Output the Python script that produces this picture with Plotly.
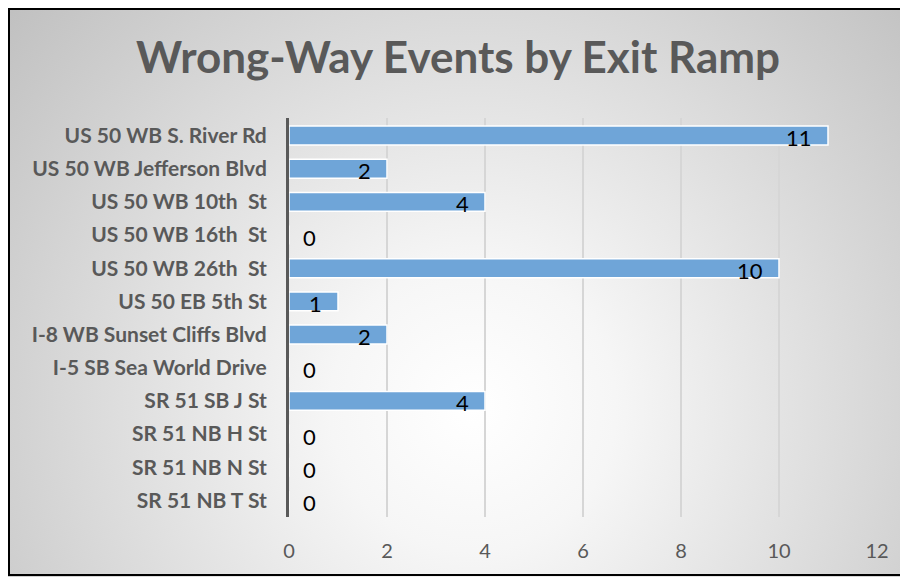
import base64
import plotly.graph_objects as go

# ── Data ───────────────────────────────────────────────────────────────────────
ramps = [
    "US 50 WB S. River Rd",
    "US 50 WB Jefferson Blvd",
    "US 50 WB 10th  St",
    "US 50 WB 16th  St",
    "US 50 WB 26th  St",
    "US 50 EB 5th St",
    "I-8 WB Sunset Cliffs Blvd",
    "I-5 SB Sea World Drive",
    "SR 51 SB J St",
    "SR 51 NB H St",
    "SR 51 NB N St",
    "SR 51 NB T St",
]
events = [11, 2, 4, 0, 10, 1, 2, 0, 4, 0, 0, 0]
x_ticks = [0, 2, 4, 6, 8, 10, 12]

# ── Geometry (figure sits 8px in from the page corner) ─────────────────────────
W, H = 900, 569
ML, MR, MT, MB = 281, 31, 110, 60
PW, PH = W - ML - MR, H - MT - MB
FONT = "Lato, 'Open Sans', sans-serif"

# ── Background gradient (radial, light centre) ────────────────────────────────
svg = (
    f'<svg xmlns="http://www.w3.org/2000/svg" width="{W}" height="{H}">'
    '<defs><radialGradient id="g" cx="465" cy="400" r="650" '
    'gradientUnits="userSpaceOnUse">'
    '<stop offset="0" stop-color="#ffffff"/>'
    '<stop offset="0.22" stop-color="#f6f6f6"/>'
    '<stop offset="1" stop-color="#bcbcbc"/>'
    '</radialGradient></defs>'
    f'<rect width="{W}" height="{H}" fill="url(#g)"/></svg>'
)
bg_uri = "data:image/svg+xml;base64," + base64.b64encode(svg.encode()).decode()

fig = go.Figure()

fig.add_trace(go.Bar(
    x=events,
    y=ramps,
    orientation="h",
    marker=dict(color="#6fa5d8", line=dict(color="white", width=1.5)),
    hoverinfo="x+y",
    showlegend=False,
))

# value labels: inside end for bars, just right of the axis for zeros
for ramp, v in zip(ramps, events):
    fig.add_annotation(
        x=v, y=ramp, xref="x", yref="y",
        text=str(v),
        showarrow=False,
        xanchor="right" if v > 0 else "left",
        xshift=-14 if v > 0 else 12,
        yshift=-2,
        font=dict(family=FONT, size=22, color="black"),
    )

fig.update_layout(
    width=W,
    height=H,
    margin=dict(l=ML, r=MR, t=MT, b=MB),
    paper_bgcolor="white",
    plot_bgcolor="rgba(0,0,0,0)",
    font=dict(family=FONT, color="#595959"),
    title=dict(
        text="<b>Wrong-Way Events by Exit Ramp</b>",
        font=dict(size=44, color="#595959"),
        x=0.5, xanchor="center",
        y=1 - 50 / H, yanchor="middle",
    ),
    bargap=0.43,
    xaxis=dict(
        range=[0, 12],
        tickvals=x_ticks,
        tickfont=dict(size=20, color="#595959"),
        showgrid=True,
        gridcolor="#d6d6d6",
        gridwidth=1.5,
        zeroline=False,
        showline=False,
        ticklabelstandoff=20,
        fixedrange=True,
    ),
    yaxis=dict(
        autorange="reversed",
        tickfont=dict(size=21, color="#595959", weight="bold"),
        showline=True,
        linecolor="#595959",
        linewidth=3,
        showgrid=False,
        ticklabelstandoff=15,
        fixedrange=True,
    ),
    images=[dict(
        source=bg_uri,
        xref="paper", yref="paper",
        x=-ML / PW, y=1 + MT / PH,
        sizex=W / PW, sizey=H / PH,
        xanchor="left", yanchor="top",
        sizing="stretch",
        layer="below",
    )],
    shapes=[dict(
        type="rect",
        xref="paper", yref="paper",
        x0=(-ML + 1) / PW, x1=1 + (MR - 3) / PW,
        y0=-(MB - 2) / PH, y1=1 + (MT - 1) / PH,
        line=dict(color="black", width=2),
    )],
)

fig.write_html("out.html")
